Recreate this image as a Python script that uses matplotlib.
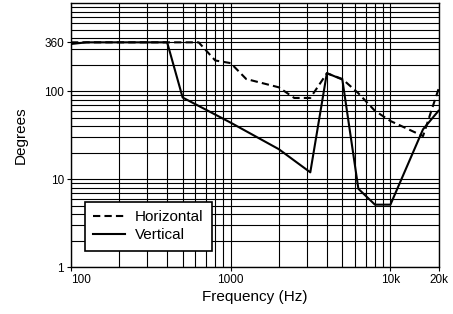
import matplotlib.pyplot as plt
from matplotlib.ticker import FixedLocator, NullFormatter

plt.rcParams['font.family'] = ['Liberation Sans', 'DejaVu Sans']

# Horizontal (dashed)
freq_h = [100, 630, 800, 1000, 1250, 2000, 2500, 3150, 4000, 5000, 6300, 8000, 10000, 16000, 20000]
deg_h = [360, 360, 224, 209, 138, 111, 84, 84, 160, 138, 95, 60, 46, 31, 106]

# Vertical (solid)
freq_v = [100, 125, 400, 500, 1000, 2000, 3150, 4000, 5000, 6300, 8000, 10000, 16000, 20000]
deg_v = [345, 360, 360, 85, 44, 22, 12, 161, 136, 7.8, 5.15, 5.15, 37, 60]

xticks = [100, 1000, 10000, 20000]
xlabels = ["100", "1000", "10k", "20k"]
yticks = [1, 10, 100, 360]
ylabels = ["1", "10", "100", "360"]

fig = plt.figure(figsize=(4.53, 3.14), dpi=100)
ax = fig.add_axes([0.1567, 0.1487, 0.8113, 0.8408])

ax.set_xscale('log')
ax.set_yscale('log')
ax.set_xlim(100, 20000)
ax.set_ylim(1, 1000)

ax.plot(freq_h, deg_h, color='black', lw=1.5, ls=(0, (3.5, 2)), label='Horizontal')
ax.plot(freq_v, deg_v, color='black', lw=1.5, label='Vertical')

ax.xaxis.set_major_locator(FixedLocator(xticks))
ax.set_xticklabels(xlabels, fontsize=8.5)
ax.yaxis.set_major_locator(FixedLocator(yticks))
ax.set_yticklabels(ylabels, fontsize=8.5)
ax.get_xticklabels()[0].set_horizontalalignment('left')

# minor grid at 2..9 of each decade
xminor = [m * d for d in (100, 1000, 10000) for m in range(2, 10) if m * d < 20000]
yminor = [m * d for d in (1, 10, 100) for m in range(2, 10)]
ax.xaxis.set_minor_locator(FixedLocator(xminor))
ax.yaxis.set_minor_locator(FixedLocator(yminor))
ax.xaxis.set_minor_formatter(NullFormatter())
ax.yaxis.set_minor_formatter(NullFormatter())
ax.tick_params(which='minor', length=0)
ax.tick_params(which='major', length=3, width=0.8, pad=2)

ax.grid(True, which='both', color='black', lw=0.8)
for s in ax.spines.values():
    s.set_linewidth(1.0)

ax.set_xlabel("Frequency (Hz)", fontsize=11, labelpad=3)
ax.set_ylabel("Degrees", fontsize=11, labelpad=12)

leg = ax.legend(loc='lower left', bbox_to_anchor=(0.038, 0.063), borderaxespad=0,
                fontsize=11, fancybox=False, framealpha=1, edgecolor='black',
                handlelength=2.1, borderpad=0.55, labelspacing=0.25, handletextpad=0.6)
leg.get_frame().set_linewidth(1.2)

fig.savefig("out.png", dpi=100)
